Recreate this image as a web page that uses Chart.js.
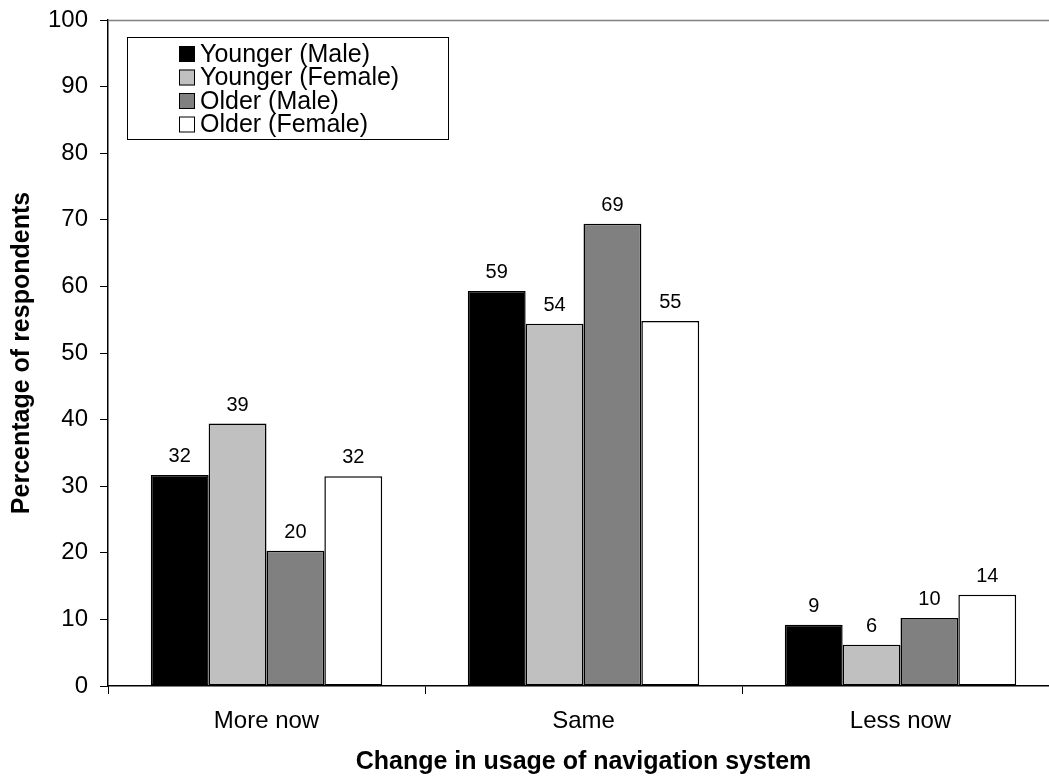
<!DOCTYPE html>
<html lang="en">
<head>
  <meta charset="UTF-8">
  <title>Change in usage of navigation system</title>
  <script src="https://cdn.jsdelivr.net/npm/chart.js"></script>
  <style>
    html, body { margin: 0; padding: 0; background: #fff; overflow: hidden; }
    #wrap { width: 1060px; height: 778px; }
  </style>
</head>
<body>
  <div id="wrap">
    <canvas id="myChart" width="1060" height="778"></canvas>
  </div>

  <script>
    // categories and series
    const categories = ['More now', 'Same', 'Less now'];
    const seriesNames = ['Younger (Male)', 'Younger (Female)', 'Older (Male)', 'Older (Female)'];
    const youngerMale = [31.7, 59.3, 9.2];
    const youngerFemale = [39.4, 54.4, 6.2];
    const olderMale = [20.3, 69.4, 10.2];
    const olderFemale = [31.5, 54.8, 13.7];
    const seriesColors = ['#000000', '#c0c0c0', '#808080', '#ffffff'];

    const FONT = '"Liberation Sans", Arial, sans-serif';

    // value labels above each bar
    const valueLabels = {
      id: 'valueLabels',
      afterDatasetsDraw(chart) {
        const ctx = chart.ctx;
        ctx.save();
        ctx.font = '20px ' + FONT;
        ctx.fillStyle = '#000';
        ctx.textAlign = 'center';
        ctx.textBaseline = 'alphabetic';
        chart.data.datasets.forEach((ds, i) => {
          chart.getDatasetMeta(i).data.forEach((bar, j) => {
            ctx.fillText(String(Math.round(ds.data[j])), bar.x, bar.y - 13);
          });
        });
        ctx.restore();
      }
    };

    // gray top border + boxed legend inside the plot
    const frameAndLegend = {
      id: 'frameAndLegend',
      afterDraw(chart) {
        const ctx = chart.ctx;
        const a = chart.chartArea;
        ctx.save();
        ctx.strokeStyle = '#808080';
        ctx.lineWidth = 1.5;
        ctx.beginPath();
        ctx.moveTo(a.left, a.top + 0.5);
        ctx.lineTo(chart.width, a.top + 0.5);
        ctx.stroke();

        const bx = a.left + 19, by = a.top + 17;
        ctx.strokeStyle = '#000';
        ctx.lineWidth = 1;
        ctx.fillStyle = '#fff';
        ctx.fillRect(bx, by, 321, 102);
        ctx.strokeRect(bx + 0.5, by + 0.5, 321, 102);

        ctx.font = '25px ' + FONT;
        ctx.textBaseline = 'middle';
        ctx.textAlign = 'left';
        chart.data.datasets.forEach((ds, i) => {
          const cy = by + 17 + i * 23.5;
          ctx.fillStyle = ds.backgroundColor;
          ctx.fillRect(bx + 52, cy - 8, 16, 16);
          ctx.strokeStyle = '#000';
          ctx.strokeRect(bx + 52.5, cy - 7.5, 15, 15);
          ctx.fillStyle = '#000';
          ctx.fillText(ds.label, bx + 73, cy + 1);
        });
        ctx.restore();
      }
    };

    const allSeries = [youngerMale, youngerFemale, olderMale, olderFemale];

    const ctx = document.getElementById('myChart').getContext('2d');
    const myChart = new Chart(ctx, {
      type: 'bar',
      data: {
        labels: categories,
        datasets: allSeries.map((values, i) => ({
          label: seriesNames[i],
          data: values,
          backgroundColor: seriesColors[i],
          borderColor: '#000',
          borderWidth: 1.5,
          borderSkipped: false,
          barPercentage: 1,
          categoryPercentage: 0.73
        }))
      },
      options: {
        responsive: false,
        animation: false,
        devicePixelRatio: 1,
        layout: { padding: { top: 20, right: 1, left: 0, bottom: 0 } },
        plugins: {
          legend: { display: false },
          tooltip: { enabled: false }
        },
        scales: {
          x: {
            afterFit(scale) { scale.height = 92; },
            grid: {
              offset: true,
              drawOnChartArea: false,
              tickLength: 8,
              color: '#000'
            },
            border: { color: '#000', width: 1.5 },
            ticks: {
              color: '#000',
              font: { family: FONT, size: 24 },
              padding: 13
            },
            title: {
              display: true,
              text: 'Change in usage of navigation system',
              color: '#000',
              font: { family: FONT, size: 25, weight: 'bold' },
              padding: { top: 0, bottom: 1 }
            }
          },
          y: {
            min: 0,
            max: 100,
            afterFit(scale) {
              scale.width = 108;
              scale.paddingTop = 0; // let the layout padding set the plot top
            },
            grid: {
              drawOnChartArea: false,
              tickLength: 8,
              color: '#000'
            },
            border: { color: '#000', width: 1.5 },
            ticks: {
              stepSize: 10,
              color: '#000',
              font: { family: FONT, size: 24 },
              padding: 12
            },
            title: {
              display: true,
              text: 'Percentage of respondents',
              color: '#000',
              font: { family: FONT, size: 25, weight: 'bold' },
              padding: { top: 7, bottom: 0 }
            }
          }
        }
      },
      plugins: [valueLabels, frameAndLegend]
    });
  </script>
</body>
</html>
